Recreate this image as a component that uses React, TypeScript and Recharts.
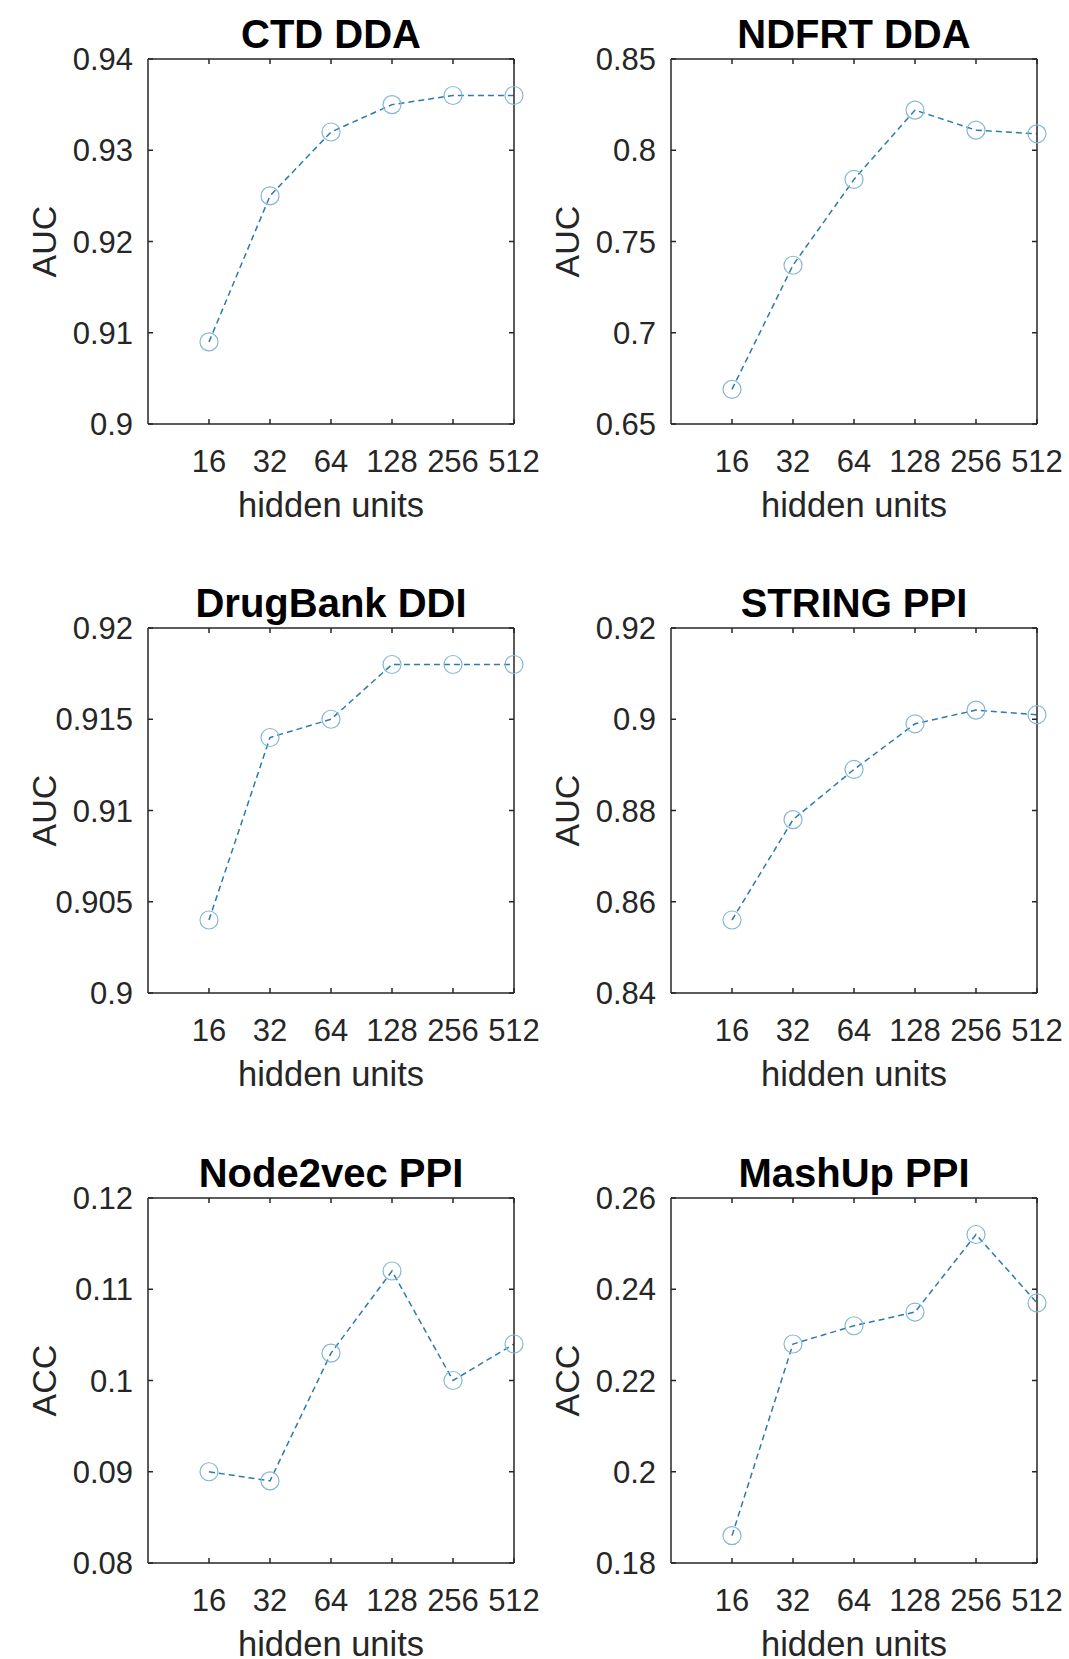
import React from 'react';
import { LineChart, Line, XAxis, YAxis } from 'recharts';

// Hidden-unit sizes swept on the x axis
const hiddenUnits = ['16', '32', '64', '128', '256', '512'];

// Scores per dataset, one value per hidden-unit size
const ctdDda = [0.909, 0.925, 0.932, 0.935, 0.936, 0.936];
const ndfrtDda = [0.669, 0.737, 0.784, 0.822, 0.811, 0.809];
const drugBankDdi = [0.904, 0.914, 0.915, 0.918, 0.918, 0.918];
const stringPpi = [0.856, 0.878, 0.889, 0.899, 0.902, 0.901];
const node2vecPpi = [0.09, 0.089, 0.103, 0.112, 0.1, 0.104];
const mashUpPpi = [0.186, 0.228, 0.232, 0.235, 0.252, 0.237];

// Y tick labels per panel
const ctdTicks = [0.9, 0.91, 0.92, 0.93, 0.94];
const ndfrtTicks = [0.65, 0.7, 0.75, 0.8, 0.85];
const drugBankTicks = [0.9, 0.905, 0.91, 0.915, 0.92];
const stringTicks = [0.84, 0.86, 0.88, 0.9, 0.92];
const node2vecTicks = [0.08, 0.09, 0.1, 0.11, 0.12];
const mashUpTicks = [0.18, 0.2, 0.22, 0.24, 0.26];

const FONT = '"Liberation Sans", Arial, Helvetica, sans-serif';
const AXIS_COLOR = '#262626';
const LINE_COLOR = '#2b7ab2';
const MARKER_COLOR = '#86b8d3';

// positions 1..6 on a numeric axis running from 0 to 6
const xTicks = hiddenUnits.map((_, i) => i + 1);
const unitLabel = (v: number) => hiddenUnits[v - 1] ?? '';
const numLabel = (v: number) => String(Number(v.toFixed(4)));
const blank = () => '';

const PLOT_W = 366;
const PLOT_H = 365;
const Y_AXIS_W = 148;
const X_AXIS_H = 110;
const TOP = 59;
const RIGHT = 30;

type PanelProps = {
  title: string;
  yLabel: string;
  values: number[];
  ticks: number[];
  left: number;
  top: number;
};

function Panel({ title, yLabel, values, ticks, left, top }: PanelProps) {
  const data = hiddenUnits.map((u, i) => ({ pos: i + 1, units: u, value: values[i] }));
  const domain: [number, number] = [ticks[0], ticks[ticks.length - 1]];
  const tickStyle = { fontSize: 31, fill: AXIS_COLOR, fontFamily: FONT };
  return (
    <div style={{ position: 'absolute', left, top }}>
      <LineChart
        width={Y_AXIS_W + PLOT_W + RIGHT + 1}
        height={TOP + PLOT_H + X_AXIS_H}
        data={data}
        margin={{ top: TOP - 1, right: RIGHT, bottom: 0, left: 0 }}
      >
        <XAxis
          xAxisId="bottom"
          dataKey="pos"
          type="number"
          domain={[0, 6]}
          ticks={xTicks}
          tickFormatter={unitLabel}
          height={X_AXIS_H}
          tickSize={-5}
          tickMargin={31}
          stroke={AXIS_COLOR}
          strokeWidth={1.5}
          tick={tickStyle}
          interval={0}
          label={{
            value: 'hidden units',
            position: 'insideBottom',
            offset: 17,
            style: { fontSize: 34.5, fill: AXIS_COLOR, fontFamily: FONT },
          }}
        />
        <XAxis
          xAxisId="top"
          orientation="top"
          dataKey="pos"
          type="number"
          domain={[0, 6]}
          ticks={xTicks}
          tickFormatter={blank}
          height={1}
          tickSize={-5}
          stroke={AXIS_COLOR}
          strokeWidth={1.5}
          interval={0}
          label={{
            value: title,
            position: 'top',
            offset: 10,
            style: { fontSize: 40, fontWeight: 700, fill: '#000', fontFamily: FONT },
          }}
        />
        <YAxis
          yAxisId="left"
          type="number"
          domain={domain}
          ticks={ticks}
          tickFormatter={numLabel}
          width={Y_AXIS_W}
          tickSize={-5}
          tickMargin={20}
          stroke={AXIS_COLOR}
          strokeWidth={1.5}
          tick={tickStyle}
          interval={0}
          label={{
            value: yLabel,
            angle: -90,
            position: 'insideLeft',
            offset: 44,
            style: { fontSize: 34, fill: AXIS_COLOR, fontFamily: FONT, textAnchor: 'middle' },
          }}
        />
        <YAxis
          yAxisId="right"
          orientation="right"
          type="number"
          domain={domain}
          ticks={ticks}
          tickFormatter={blank}
          width={1}
          tickSize={-5}
          stroke={AXIS_COLOR}
          strokeWidth={1.5}
          interval={0}
        />
        {/* invisible series that keeps the top and right frame axes bound */}
        <Line
          xAxisId="top"
          yAxisId="right"
          type="linear"
          dataKey="value"
          stroke="none"
          dot={false}
          activeDot={false}
          legendType="none"
          isAnimationActive={false}
        />
        <Line
          xAxisId="bottom"
          yAxisId="left"
          type="linear"
          dataKey="value"
          stroke={LINE_COLOR}
          strokeWidth={1.5}
          strokeDasharray="6 4"
          dot={{ r: 9, stroke: MARKER_COLOR, strokeWidth: 1.2, fill: 'none', strokeDasharray: 'none' }}
          activeDot={false}
          isAnimationActive={false}
        />
      </LineChart>
    </div>
  );
}

const panels: PanelProps[] = [
  { title: 'CTD DDA', yLabel: 'AUC', values: ctdDda, ticks: ctdTicks, left: 0, top: 0 },
  { title: 'NDFRT DDA', yLabel: 'AUC', values: ndfrtDda, ticks: ndfrtTicks, left: 523, top: 0 },
  { title: 'DrugBank DDI', yLabel: 'AUC', values: drugBankDdi, ticks: drugBankTicks, left: 0, top: 569 },
  { title: 'STRING PPI', yLabel: 'AUC', values: stringPpi, ticks: stringTicks, left: 523, top: 569 },
  { title: 'Node2vec PPI', yLabel: 'ACC', values: node2vecPpi, ticks: node2vecTicks, left: 0, top: 1139 },
  { title: 'MashUp PPI', yLabel: 'ACC', values: mashUpPpi, ticks: mashUpTicks, left: 523, top: 1139 },
];

export default function App() {
  return (
    <div
      style={{
        position: 'absolute',
        left: 0,
        top: 0,
        width: 1069,
        height: 1659,
        background: '#fff',
        overflow: 'hidden',
      }}
    >
      {panels.map((p) => (
        <Panel key={p.title} {...p} />
      ))}
    </div>
  );
}
